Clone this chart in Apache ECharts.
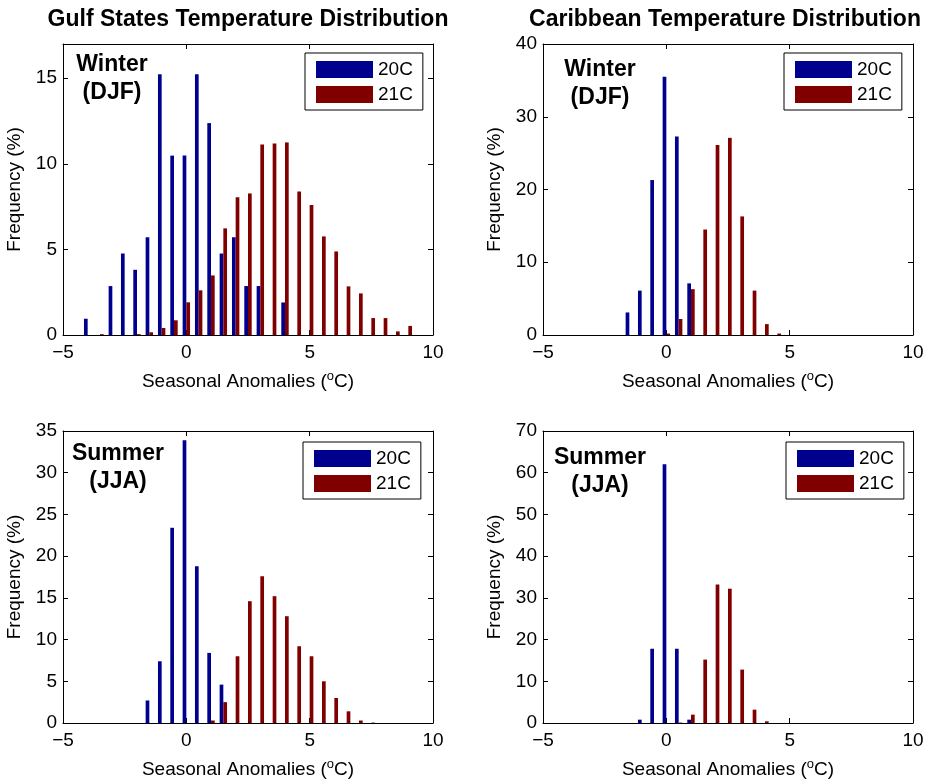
<!DOCTYPE html>
<html>
<head>
<meta charset="utf-8">
<script src="https://cdn.jsdelivr.net/npm/echarts@6/dist/echarts.min.js"></script>
<style>
  html, body { margin: 0; padding: 0; background: #fff; }
  #chart { width: 933px; height: 782px; }
</style>
</head>
<body>
<div id="chart"></div>
<script>
// bin centres (deg C)
const bins = [-4, -3.5, -3, -2.5, -2, -1.5, -1, -0.5, 0, 0.5, 1, 1.5, 2, 2.5, 3, 3.5, 4, 4.5, 5, 5.5, 6, 6.5, 7, 7.5, 8, 8.5, 9];

// Gulf States, winter
const gulfWinter20C = [0.95, 0, 2.86, 4.76, 3.81, 5.71, 15.24, 10.48, 10.48, 15.24, 12.38, 4.76, 5.71, 2.86, 2.86, 0, 1.9, 0, 0, 0, 0, 0, 0, 0, 0, 0, 0];
const gulfWinter21C = [0, 0.05, 0, 0, 0.05, 0.16, 0.41, 0.86, 1.91, 2.61, 3.48, 6.23, 8.05, 8.27, 11.13, 11.19, 11.25, 8.39, 7.59, 5.76, 4.88, 2.84, 2.43, 0.99, 0.99, 0.21, 0.53];
// Caribbean, winter
const caribWinter20C = [0, 0, 0, 0, 0, 3.1, 6.1, 21.3, 35.5, 27.3, 7.1, 0, 0, 0, 0, 0, 0, 0, 0, 0, 0, 0, 0, 0, 0, 0, 0];
const caribWinter21C = [0, 0, 0, 0, 0, 0, 0, 0, 0.2, 2.2, 6.3, 14.5, 26.1, 27.1, 16.3, 6.1, 1.5, 0.2, 0, 0, 0, 0, 0, 0, 0, 0, 0];
// Gulf States, summer
const gulfSummer20C = [0, 0, 0, 0, 0, 2.7, 7.4, 23.4, 33.9, 18.8, 8.4, 4.6, 0, 0, 0, 0, 0, 0, 0, 0, 0, 0, 0, 0, 0, 0, 0];
const gulfSummer21C = [0, 0, 0, 0, 0, 0, 0, 0, 0, 0, 0.3, 2.5, 8.0, 14.6, 17.6, 15.2, 12.8, 9.2, 8.0, 5.0, 3.0, 1.4, 0.3, 0.05, 0, 0, 0];
// Caribbean, summer
const caribSummer20C = [0, 0, 0, 0, 0, 0, 0.8, 17.8, 62.0, 17.8, 0.8, 0, 0, 0, 0, 0, 0, 0, 0, 0, 0, 0, 0, 0, 0, 0, 0];
const caribSummer21C = [0, 0, 0, 0, 0, 0, 0, 0, 0, 0.1, 2.0, 15.2, 33.2, 32.2, 12.8, 3.2, 0.4, 0, 0, 0, 0, 0, 0, 0, 0, 0, 0];

const seriesNames = ['20C', '21C'];
const titles = ['Gulf States Temperature Distribution', 'Caribbean Temperature Distribution'];
const seasons = ['Winter\n(DJF)', 'Winter\n(DJF)', 'Summer\n(JJA)', 'Summer\n(JJA)'];
const yMax = [17, 40, 35, 70];
const yStep = [5, 10, 5, 10];
const panelData = [
  [gulfWinter20C, gulfWinter21C],
  [caribWinter20C, caribWinter21C],
  [gulfSummer20C, gulfSummer21C],
  [caribSummer20C, caribSummer21C]
];

const FONT = '"Liberation Sans", Arial, Helvetica, sans-serif';
const colors = ['#00008f', '#800000'];
const grids = [
  { left: 63, top: 44, width: 370, height: 291 },
  { left: 543, top: 44, width: 370, height: 291 },
  { left: 63, top: 431, width: 370, height: 292 },
  { left: 543, top: 431, width: 370, height: 292 }
];
const legendPos = [[305, 53], [784, 53], [303, 442], [786, 442]];
const seasonPos = [[112, 79], [600, 84], [118, 468], [600, 472]];
const titlePos = [[248, 20], [725, 20]];

const line = { show: true, onZero: false, lineStyle: { color: '#000', width: 1 } };
const tick = { show: true, inside: true, length: 5, lineStyle: { color: '#000', width: 1 } };
const minus = v => String(v).replace('-', '\u2212');

const option = {
  animation: false,
  backgroundColor: '#fff',
  grid: grids,
  xAxis: [], yAxis: [], series: [], legend: [], graphic: []
};

panelData.forEach((pair, i) => {
  // bottom + top x axes
  option.xAxis.push({
    type: 'value', gridIndex: i, min: -5, max: 10, interval: 5, position: 'bottom',
    axisLine: line, axisTick: tick, splitLine: { show: false },
    axisLabel: { color: '#000', fontSize: 19, fontFamily: FONT, margin: 8, formatter: minus },
    name: '{a|Seasonal Anomalies (}{s|o}{a|C)}',
    nameLocation: 'middle', nameGap: 35,
    nameTextStyle: {
      rich: {
        a: { fontSize: 19, fontFamily: FONT, color: '#000', lineHeight: 24 },
        s: { fontSize: 13, fontFamily: FONT, color: '#000', lineHeight: 12, verticalAlign: 'top' }
      }
    }
  });
  option.xAxis.push({
    type: 'value', gridIndex: i, min: -5, max: 10, interval: 5, position: 'top',
    axisLine: line, axisTick: tick, axisLabel: { show: false }, splitLine: { show: false }
  });
  // left + right y axes
  option.yAxis.push({
    type: 'value', gridIndex: i, min: 0, max: yMax[i], interval: yStep[i], position: 'left',
    axisLine: line, axisTick: tick, splitLine: { show: false },
    axisLabel: { color: '#000', fontSize: 19, fontFamily: FONT, margin: 6, showMaxLabel: yMax[i] % yStep[i] === 0 },
    name: 'Frequency (%)', nameLocation: 'middle', nameGap: 39,
    nameTextStyle: { color: '#000', fontSize: 19, fontFamily: FONT }
  });
  option.yAxis.push({
    type: 'value', gridIndex: i, min: 0, max: yMax[i], interval: yStep[i], position: 'right',
    axisLine: line, axisTick: tick, axisLabel: { show: false }, splitLine: { show: false }
  });

  pair.forEach((vals, k) => {
    option.series.push({
      name: seriesNames[k], type: 'bar',
      xAxisIndex: i * 2, yAxisIndex: i * 2,
      barWidth: 3.7, barGap: '0%',
      itemStyle: { color: colors[k] },
      data: bins.map((b, j) => [b, vals[j]])
    });
  });

  option.legend.push({
    data: seriesNames, left: legendPos[i][0], top: legendPos[i][1],
    orient: 'vertical', icon: 'rect', itemWidth: 57, itemHeight: 17, itemGap: 6,
    padding: [7, 10, 6, 11], borderColor: '#000', borderWidth: 1, borderRadius: 0,
    backgroundColor: '#fff', selectedMode: false,
    textStyle: { color: '#000', fontSize: 19, fontFamily: FONT }
  });

  option.graphic.push({
    type: 'text', x: seasonPos[i][0], y: seasonPos[i][1],
    style: {
      text: seasons[i], fill: '#000', font: 'bold 23px ' + FONT,
      align: 'center', verticalAlign: 'middle', lineHeight: 28
    }
  });
});

titles.forEach((t, i) => {
  option.graphic.push({
    type: 'text', x: titlePos[i][0], y: titlePos[i][1],
    style: { text: t, fill: '#000', font: 'bold 23px ' + FONT, align: 'center', verticalAlign: 'middle' }
  });
});

const chart = echarts.init(document.getElementById('chart'));
chart.setOption(option);
</script>
</body>
</html>
